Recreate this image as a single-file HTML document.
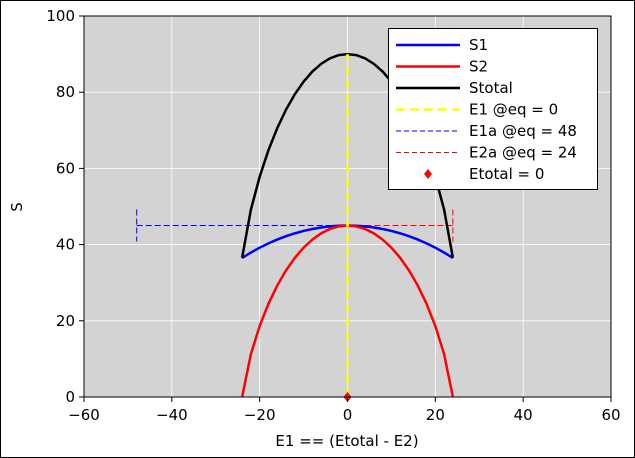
<!DOCTYPE html>
<html><head><meta charset="utf-8"><style>
body{margin:0;background:#fff;}
svg{display:block;font-family:"DejaVu Sans","Liberation Sans",sans-serif;}
</style></head><body>
<svg id="chart" width="635" height="458" viewBox="0 0 635 458" xmlns="http://www.w3.org/2000/svg">
<rect x="0.5" y="0.5" width="634" height="457" fill="#fff" stroke="#000"/>
<rect x="84" y="16" width="527" height="381" fill="#d3d3d3"/>
<g id="grid"></g>
<g id="series"></g>
<rect x="84" y="16" width="527" height="381" fill="none" stroke="#000"/>
<g id="axes"></g>
<text x="347" y="446" text-anchor="middle" font-size="15">E1 == (Etotal - E2)</text>
<text x="22" y="207" text-anchor="middle" font-size="15" transform="rotate(-90 22 207)">S</text>
<g id="legend"></g>
</svg>
<script>
const e1Values=[-24,-22,-20,-18,-16,-14,-12,-10,-8,-6,-4,-2,0,2,4,6,8,10,12,14,16,18,20,22,24];
const s1Values=[36.51,37.92,39.19,40.32,41.32,42.20,42.95,43.58,44.10,44.49,44.78,44.95,45,44.95,44.78,44.49,44.10,43.58,42.95,42.20,41.32,40.32,39.19,37.92,36.51];
const s2Values=[0,11.25,18.62,24.46,29.25,33.22,36.51,39.19,41.32,42.95,44.10,44.78,45,44.78,44.10,42.95,41.32,39.19,36.51,33.22,29.25,24.46,18.62,11.25,0];
const xTicks=[-60,-40,-20,0,20,40,60];
const yTicks=[0,20,40,60,80,100];
const e1aEq=48, e2aEq=24, e1Eq=0, sEq=45;
const NS="http://www.w3.org/2000/svg";
const X=v=>84+(v+60)/120*527;
const Y=v=>397-v/100*381;
function mk(parent,tag,attrs){const e=document.createElementNS(NS,tag);for(const k in attrs)e.setAttribute(k,attrs[k]);document.getElementById(parent).appendChild(e);return e;}
xTicks.forEach(t=>{
  let g=mk('grid','line',{x1:X(t),x2:X(t),y1:16,y2:397,stroke:'#fff','stroke-width':0.8});
  
  
  let tk=mk('axes','line',{x1:X(t),x2:X(t),y1:397,y2:402,stroke:'#000'});
  
  
  let l=mk('axes','text',{x:X(t),y:420,'text-anchor':'middle','font-size':15});
  l.textContent=(t<0?'\u2212'+(-t):t);
  
  
});
yTicks.forEach(t=>{
  let g=mk('grid','line',{x1:84,x2:611,y1:Y(t),y2:Y(t),stroke:'#fff','stroke-width':0.8});
  
  
  let tk=mk('axes','line',{x1:79,x2:84,y1:Y(t),y2:Y(t),stroke:'#000'});
  
  
  let l=mk('axes','text',{x:75,y:Y(t)+5,'text-anchor':'end','font-size':15});
  l.textContent=t;
  
  
});
const pts=a=>e1Values.map((x,i)=>X(x)+','+Y(a[i])).join(' ');
const sTot=s1Values.map((v,i)=>v+s2Values[i]);
// dashed lines
let b=mk('series','line',{x1:X(-e1aEq),x2:X(e1Eq),y1:Y(sEq),y2:Y(sEq),stroke:'#0000ff','stroke-dasharray':'6,3'});


let bc=mk('series','line',{x1:X(-e1aEq),x2:X(-e1aEq),y1:Y(sEq)-16,y2:Y(sEq)+16,stroke:'#0000ff','stroke-dasharray':'6,3'});


let r=mk('series','line',{x1:X(e1Eq),x2:X(e2aEq),y1:Y(sEq),y2:Y(sEq),stroke:'#ff0000','stroke-dasharray':'6,3'});


let rc=mk('series','line',{x1:X(e2aEq),x2:X(e2aEq),y1:Y(sEq)-16,y2:Y(sEq)+16,stroke:'#ff0000','stroke-dasharray':'6,3'});


let p1=mk('series','polyline',{points:pts(s1Values),fill:'none',stroke:'#0000ff','stroke-width':2.5});


let p2=mk('series','polyline',{points:pts(s2Values),fill:'none',stroke:'#ff0000','stroke-width':2.5});


let p3=mk('series','polyline',{points:pts(sTot),fill:'none',stroke:'#000','stroke-width':2.5});


let yl=mk('series','line',{x1:X(e1Eq),x2:X(e1Eq),y1:Y(0),y2:Y(90),stroke:'#ffff00','stroke-width':2.5,'stroke-dasharray':'9,5'});


let d=mk('series','polygon',{points:`${X(0)},${Y(0)-5} ${X(0)+4},${Y(0)} ${X(0)},${Y(0)+5} ${X(0)-4},${Y(0)}`,fill:'#ff0000'});


// legend
let lb=mk('legend','rect',{x:388.5,y:28.5,width:209,height:161,fill:'#fff',stroke:'#000'});


const leg=[['S1','#0000ff',2.5,''],['S2','#ff0000',2.5,''],['Stotal','#000',2.5,''],['E1 @eq = 0','#ffff00',2.5,'9,5'],['E1a @eq = 48','#0000ff',1,'5,3'],['E2a @eq = 24','#ff0000',1,'5,3'],['Etotal = 0','#ff0000',0,'']];
leg.forEach((e,i)=>{
  const y=45+i*21.5;
  if(e[2]>0){
    let l=mk('legend','line',{x1:396,x2:460,y1:y,y2:y,stroke:e[1],'stroke-width':e[2],'stroke-dasharray':e[3]||'none'});
    
    
  } else {
    let m=mk('legend','polygon',{points:`428,${y-5} 432,${y} 428,${y+5} 424,${y}`,fill:e[1]});
    
    
  }
  let t=mk('legend','text',{x:469,y:y+5,'font-size':15});
  t.textContent=e[0];
  
  
});
</script>
</body></html>
